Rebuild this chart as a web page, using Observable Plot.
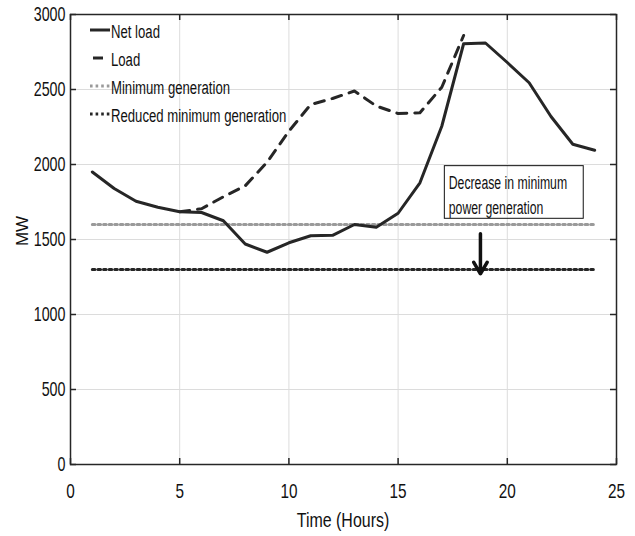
<!DOCTYPE html>
<html>
<head>
<meta charset="utf-8">
<script src="https://cdn.jsdelivr.net/npm/d3@7"></script>
<script src="https://cdn.jsdelivr.net/npm/@observablehq/plot@0.6"></script>
<style>
  html, body { margin: 0; padding: 0; background: #fff; }
  #chart { width: 635px; height: 536px; }
</style>
</head>
<body>
<div id="chart"></div>
<script>
// ---- data ----
const hours = [1, 2, 3, 4, 5, 6, 7, 8, 9, 10, 11, 12, 13, 14, 15, 16, 17, 18, 19, 20, 21, 22, 23, 24];
const netLoad = [1950, 1840, 1755, 1715, 1685, 1680, 1625, 1470, 1415, 1478, 1525, 1528, 1600, 1582, 1675, 1878, 2255, 2805, 2810, 2680, 2545, 2320, 2135, 2095];
const loadHours = [5, 6, 7, 8, 9, 10, 11, 12, 13, 14, 15, 16, 17, 18];
const load = [1685, 1705, 1785, 1858, 2015, 2222, 2400, 2440, 2490, 2390, 2340, 2345, 2515, 2860];
const levelHours = [1, 24];
const minGeneration = 1600;
const reducedMinGeneration = 1300;
const xTicks = [0, 5, 10, 15, 20, 25];
const yTicks = [0, 500, 1000, 1500, 2000, 2500, 3000];
const xDomain = [0, 25];
const yDomain = [0, 3000];
const xLabel = "Time (Hours)";
const yLabel = "MW";
const legendLabels = ["Net load", "Load", "Minimum generation", "Reduced minimum generation"];
const annotationLines = ["Decrease in minimum", "power generation"];
const annotationLineY = [1877, 1710];
const annotationTextX = 17.32;
const annotationBoxX = [17.14, 23.5];
const annotationBoxY = [1638, 1989];
const arrowX = 18.77;
const arrowY = [1538, 1271];

// ---- styles ----
const ink = "#262626";
const gray = "#9a9a9a";
const gridColor = "#dcdcdc";
const dashLoad = "10,8";
const dotted = "2.6,3";
const legendStroke = [ink, ink, gray, ink];
const legendDash = [null, dashLoad, dotted, dotted];
const legendDashOffset = [0, 15, 0, 0];

const W = 635, H = 536;
const M = {top: 14, right: 19, bottom: 72, left: 70};
const plotW = W - M.left - M.right, plotH = H - M.top - M.bottom;
const tickLen = 6;

const netRows = hours.map((h, i) => ({h, v: netLoad[i]}));
const loadRows = loadHours.map((h, i) => ({h, v: load[i]}));
const minRows = levelHours.map(h => ({h, v: minGeneration}));
const redRows = levelHours.map(h => ({h, v: reducedMinGeneration}));
const annRows = annotationLines.map((t, i) => ({t, y: annotationLineY[i]}));

function decorations(index, scales, values, dimensions) {
  const {marginLeft, marginTop, marginRight, width} = dimensions;
  const g = d3.create("svg:g").attr("font-family", "'Liberation Sans', Arial, sans-serif").attr("fill", "#111");
  // legend
  legendLabels.forEach((lab, i) => {
    const y = marginTop + 16 + i * 28;
    const x0 = marginLeft + 20, x1 = marginLeft + 40;
    const line = g.append("line")
      .attr("x1", x0).attr("x2", x1).attr("y1", y).attr("y2", y)
      .attr("stroke", legendStroke[i]).attr("stroke-width", 3);
    if (legendDash[i]) line.attr("stroke-dasharray", legendDash[i]).attr("stroke-dashoffset", legendDashOffset[i]);
    g.append("text").attr("x", x1 + 1).attr("y", y + 7.7)
      .attr("text-anchor", "start")
      .attr("font-size", 18).attr("data-sq", 0.73).text(lab);
  });
  // y label
  g.append("text").attr("transform", `translate(28,231) rotate(-90)`)
    .attr("text-anchor", "middle").attr("font-size", 17).text(yLabel);
  // x label
  const cx = marginLeft + (width - marginLeft - marginRight) / 2;
  g.append("text").attr("x", cx).attr("y", 527).attr("text-anchor", "middle")
    .attr("font-size", 21).attr("data-sq", 0.76).text(xLabel);
  return g.node();
}

const chart = Plot.plot({
  width: W,
  height: H,
  marginTop: M.top,
  marginRight: M.right,
  marginBottom: M.bottom,
  marginLeft: M.left,
  style: {fontFamily: "'Liberation Sans', Arial, sans-serif", background: "#fff", color: "#111", overflow: "visible"},
  x: {domain: xDomain, ticks: xTicks},
  y: {domain: yDomain, ticks: yTicks},
  marks: [
    Plot.gridX(xTicks, {stroke: gridColor, strokeOpacity: 1, strokeWidth: 1}),
    Plot.gridY(yTicks, {stroke: gridColor, strokeOpacity: 1, strokeWidth: 1}),
    Plot.line(minRows, {x: "h", y: "v", stroke: gray, strokeWidth: 3, strokeDasharray: dotted}),
    Plot.line(redRows, {x: "h", y: "v", stroke: ink, strokeWidth: 3, strokeDasharray: dotted}),
    Plot.line(loadRows, {x: "h", y: "v", stroke: ink, strokeWidth: 3, strokeDasharray: dashLoad}),
    Plot.line(netRows, {x: "h", y: "v", stroke: ink, strokeWidth: 3}),
    Plot.rect([0], {x1: () => annotationBoxX[0], x2: () => annotationBoxX[1], y1: () => annotationBoxY[0], y2: () => annotationBoxY[1], fill: "none", stroke: "#111", strokeWidth: 1}),
    Plot.text(annRows, {x: () => annotationTextX, y: "y", text: "t", textAnchor: "start", fontSize: 18, fill: "#111"}),
    Plot.arrow([0], {x1: () => arrowX, x2: () => arrowX, y1: () => arrowY[0], y2: () => arrowY[1], stroke: "#111", strokeWidth: 3.5, headLength: 6}),
    Plot.frame({stroke: ink, strokeWidth: 1.5}),
    Plot.ruleX(xTicks, {x: d => d, insetTop: plotH - tickLen, stroke: ink, strokeWidth: 1.5}),
    Plot.ruleX(xTicks, {x: d => d, insetBottom: plotH - tickLen, stroke: ink, strokeWidth: 1.5}),
    Plot.ruleY(yTicks, {y: d => d, insetRight: plotW - tickLen, stroke: ink, strokeWidth: 1.5}),
    Plot.ruleY(yTicks, {y: d => d, insetLeft: plotW - tickLen, stroke: ink, strokeWidth: 1.5}),
    Plot.axisX(xTicks, {tickSize: 0, tickPadding: 19, fontSize: 21, label: null, fill: "#111", tickFormat: d => String(d)}),
    Plot.axisY(yTicks, {tickSize: 0, tickPadding: 5, fontSize: 21, label: null, fill: "#111", tickFormat: d => String(d)}),
    decorations
  ]
});

document.getElementById("chart").appendChild(chart);

// horizontal compression of the text to match the narrow lettering of the reference
function squeeze(nodes, r) {
  nodes.forEach(t => {
    const L = t.getComputedTextLength();
    if (L > 0) {
      t.setAttribute("textLength", (L * r).toFixed(2));
      t.setAttribute("lengthAdjust", "spacingAndGlyphs");
    }
  });
}
chart.querySelectorAll("text[data-sq]").forEach(t => squeeze([t], +t.getAttribute("data-sq")));
squeeze(chart.querySelectorAll('g[aria-label="x-axis tick label"] text'), 0.73);
squeeze(chart.querySelectorAll('g[aria-label="y-axis tick label"] text'), 0.68);
squeeze([...chart.querySelectorAll("text")].filter(t => annotationLines.includes(t.textContent)), 0.68);
</script>
</body>
</html>
